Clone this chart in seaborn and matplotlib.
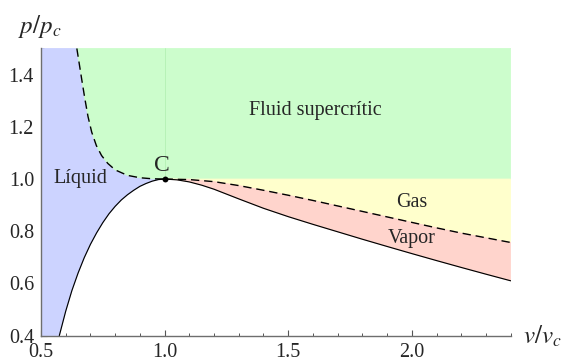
import numpy as np
import pandas as pd
import matplotlib
matplotlib.use("Agg")
import matplotlib.pyplot as plt
from matplotlib.ticker import MultipleLocator
import seaborn as sns

# ---- data ----
# critical isotherm (dashed), liquid side
iso_left_v = [0.645, 0.655, 0.665, 0.677, 0.69, 0.705, 0.724, 0.745, 0.77, 0.80, 0.85, 0.90, 0.95, 1.0]
iso_left_p = [1.50, 1.44, 1.38, 1.31, 1.24, 1.18, 1.128, 1.09, 1.06, 1.035, 1.014, 1.005, 1.001, 1.0]
# critical isotherm (dashed), gas side
iso_right_v = [1.0, 1.1, 1.2, 1.3, 1.4, 1.5, 1.6, 1.7, 1.8, 1.9, 2.0, 2.1, 2.2, 2.3, 2.4]
iso_right_p = [1.0, 0.998, 0.99, 0.975, 0.957, 0.938, 0.918, 0.897, 0.876, 0.855, 0.834, 0.813, 0.793, 0.775, 0.757]
# coexistence curve (solid), liquid branch
coex_left_v = [0.574, 0.60, 0.625, 0.65, 0.675, 0.70, 0.725, 0.75, 0.775, 0.80, 0.825, 0.85,
               0.875, 0.90, 0.925, 0.95, 0.975, 1.0]
coex_left_p = [0.40, 0.494, 0.573, 0.640, 0.699, 0.750, 0.794, 0.833, 0.867, 0.8955, 0.920, 0.940,
               0.957, 0.972, 0.983, 0.992, 0.998, 1.0]
# coexistence curve (solid), vapour branch
coex_right_v = [1.0, 1.05, 1.1, 1.15, 1.2, 1.3, 1.4, 1.5, 1.6, 1.7, 1.8, 1.9, 2.0, 2.1, 2.2, 2.3, 2.4]
coex_right_p = [1.0, 0.997, 0.989, 0.9765, 0.961, 0.924, 0.888, 0.856, 0.8265, 0.798, 0.7695, 0.7418,
                0.7145, 0.6877, 0.6614, 0.6356, 0.6103]

region_labels = ["Líquid", "Fluid supercrític", "Gas", "Vapor"]
region_label_v = [0.658, 1.61, 2.0, 2.0]
region_label_p = [0.984, 1.245, 0.894, 0.754]
crit_v, crit_p = [1.0], [1.0]

x_ticks = [0.5, 1.0, 1.5, 2.0]
y_ticks = [0.4, 0.6, 0.8, 1.0, 1.2, 1.4]

# ---- style ----
sns.set_style("ticks")
plt.rcParams["font.family"] = "serif"
plt.rcParams["font.serif"] = ["Liberation Serif", "STIXGeneral", "DejaVu Serif"]
plt.rcParams["mathtext.fontset"] = "stix"
SERIF = ["Liberation Serif", "STIXGeneral", "DejaVu Serif"]

c_blue = "#ccd3ff"
c_green = "#ccfdcc"
c_yellow = "#ffffcc"
c_red = "#ffd4cc"

fig = plt.figure(figsize=(5.64, 3.63), dpi=100)
ax = fig.add_axes([0.0727, 0.0752, 0.8328, 0.7912])
xmin, xmax, ymin, ymax = 0.5, 2.4, 0.4, 1.5

# region polygons built from the curves
blue_x = [xmin] + coex_left_v + iso_left_v[::-1] + [xmin]
blue_y = [ymin] + coex_left_p + iso_left_p[::-1] + [ymax]
green_x = iso_left_v + [xmax, xmax]
green_y = iso_left_p + [1.0, ymax]
yellow_x = iso_right_v + [xmax]
yellow_y = iso_right_p + [1.0]
red_x = iso_right_v + coex_right_v[::-1]
red_y = iso_right_p + coex_right_p[::-1]

for xs, ys, c in [(blue_x, blue_y, c_blue), (green_x, green_y, c_green),
                  (yellow_x, yellow_y, c_yellow), (red_x, red_y, c_red)]:
    ax.fill(xs, ys, color=c, lw=0.6, ec=c, zorder=1)

# faint seam line at v = 1 in the supercritical region
ax.plot([1.0, 1.0], [1.0, ymax], color="#b4f0b4", lw=0.6, zorder=1.5)

df_iso_l = pd.DataFrame({"v": iso_left_v, "p": iso_left_p})
df_iso_r = pd.DataFrame({"v": iso_right_v, "p": iso_right_p})
df_co_l = pd.DataFrame({"v": coex_left_v, "p": coex_left_p})
df_co_r = pd.DataFrame({"v": coex_right_v, "p": coex_right_p})

n0 = len(ax.get_lines())
for d in (df_iso_l, df_iso_r):
    sns.lineplot(data=d, x="v", y="p", ax=ax, color="black", lw=1.0,
                 sort=False, estimator=None, zorder=3)
for line in ax.get_lines()[n0:]:
    line.set_dashes((6, 3.5))
for d in (df_co_l, df_co_r):
    sns.lineplot(data=d, x="v", y="p", ax=ax, color="black", lw=0.85,
                 sort=False, estimator=None, zorder=3)

sns.scatterplot(x=crit_v, y=crit_p, ax=ax, color="black", s=18, zorder=4,
                edgecolor="black", linewidth=0)
ax.text(0.99, 1.032, "C", fontsize=17, ha="center", va="baseline", zorder=5,
        family=SERIF)

for lab, xv, yv in zip(region_labels, region_label_v, region_label_p):
    ax.text(xv, yv, lab, fontsize=14.5, ha="center", va="baseline", zorder=5,
            family=SERIF)

ax.set_xlim(xmin, xmax)
ax.set_ylim(ymin, ymax)
ax.set_xticks(x_ticks)
ax.set_yticks(y_ticks)
ax.set_xticklabels([f"{t:.1f}" for t in x_ticks], family=SERIF)
ax.set_yticklabels([f"{t:.1f}" for t in y_ticks], family=SERIF)
ax.xaxis.set_minor_locator(MultipleLocator(0.1))
ax.yaxis.set_minor_locator(MultipleLocator(0.05))
ax.set_xlabel("")
ax.set_ylabel("")
for s in ["top", "right"]:
    ax.spines[s].set_visible(False)
for s in ["left", "bottom"]:
    ax.spines[s].set_color("#6e6e6e")
    ax.spines[s].set_linewidth(1.0)
    ax.spines[s].set_zorder(6)
ax.tick_params(which="major", direction="in", length=4, width=0.8,
               color="#555555", labelsize=14.5)
ax.tick_params(which="minor", direction="in", length=2.5, width=0.7,
               color="#555555")
ax.tick_params(axis="x", which="major", pad=5)
ax.tick_params(axis="y", which="major", pad=5)

fig.text(40 / 564, 1 - 27 / 363, r"$p/p_c$", fontsize=18, ha="center", va="center")
fig.text(523 / 564, 1 - 336 / 363, r"$v/v_c$", fontsize=18, ha="left", va="center")

fig.savefig("out.png", dpi=100)
